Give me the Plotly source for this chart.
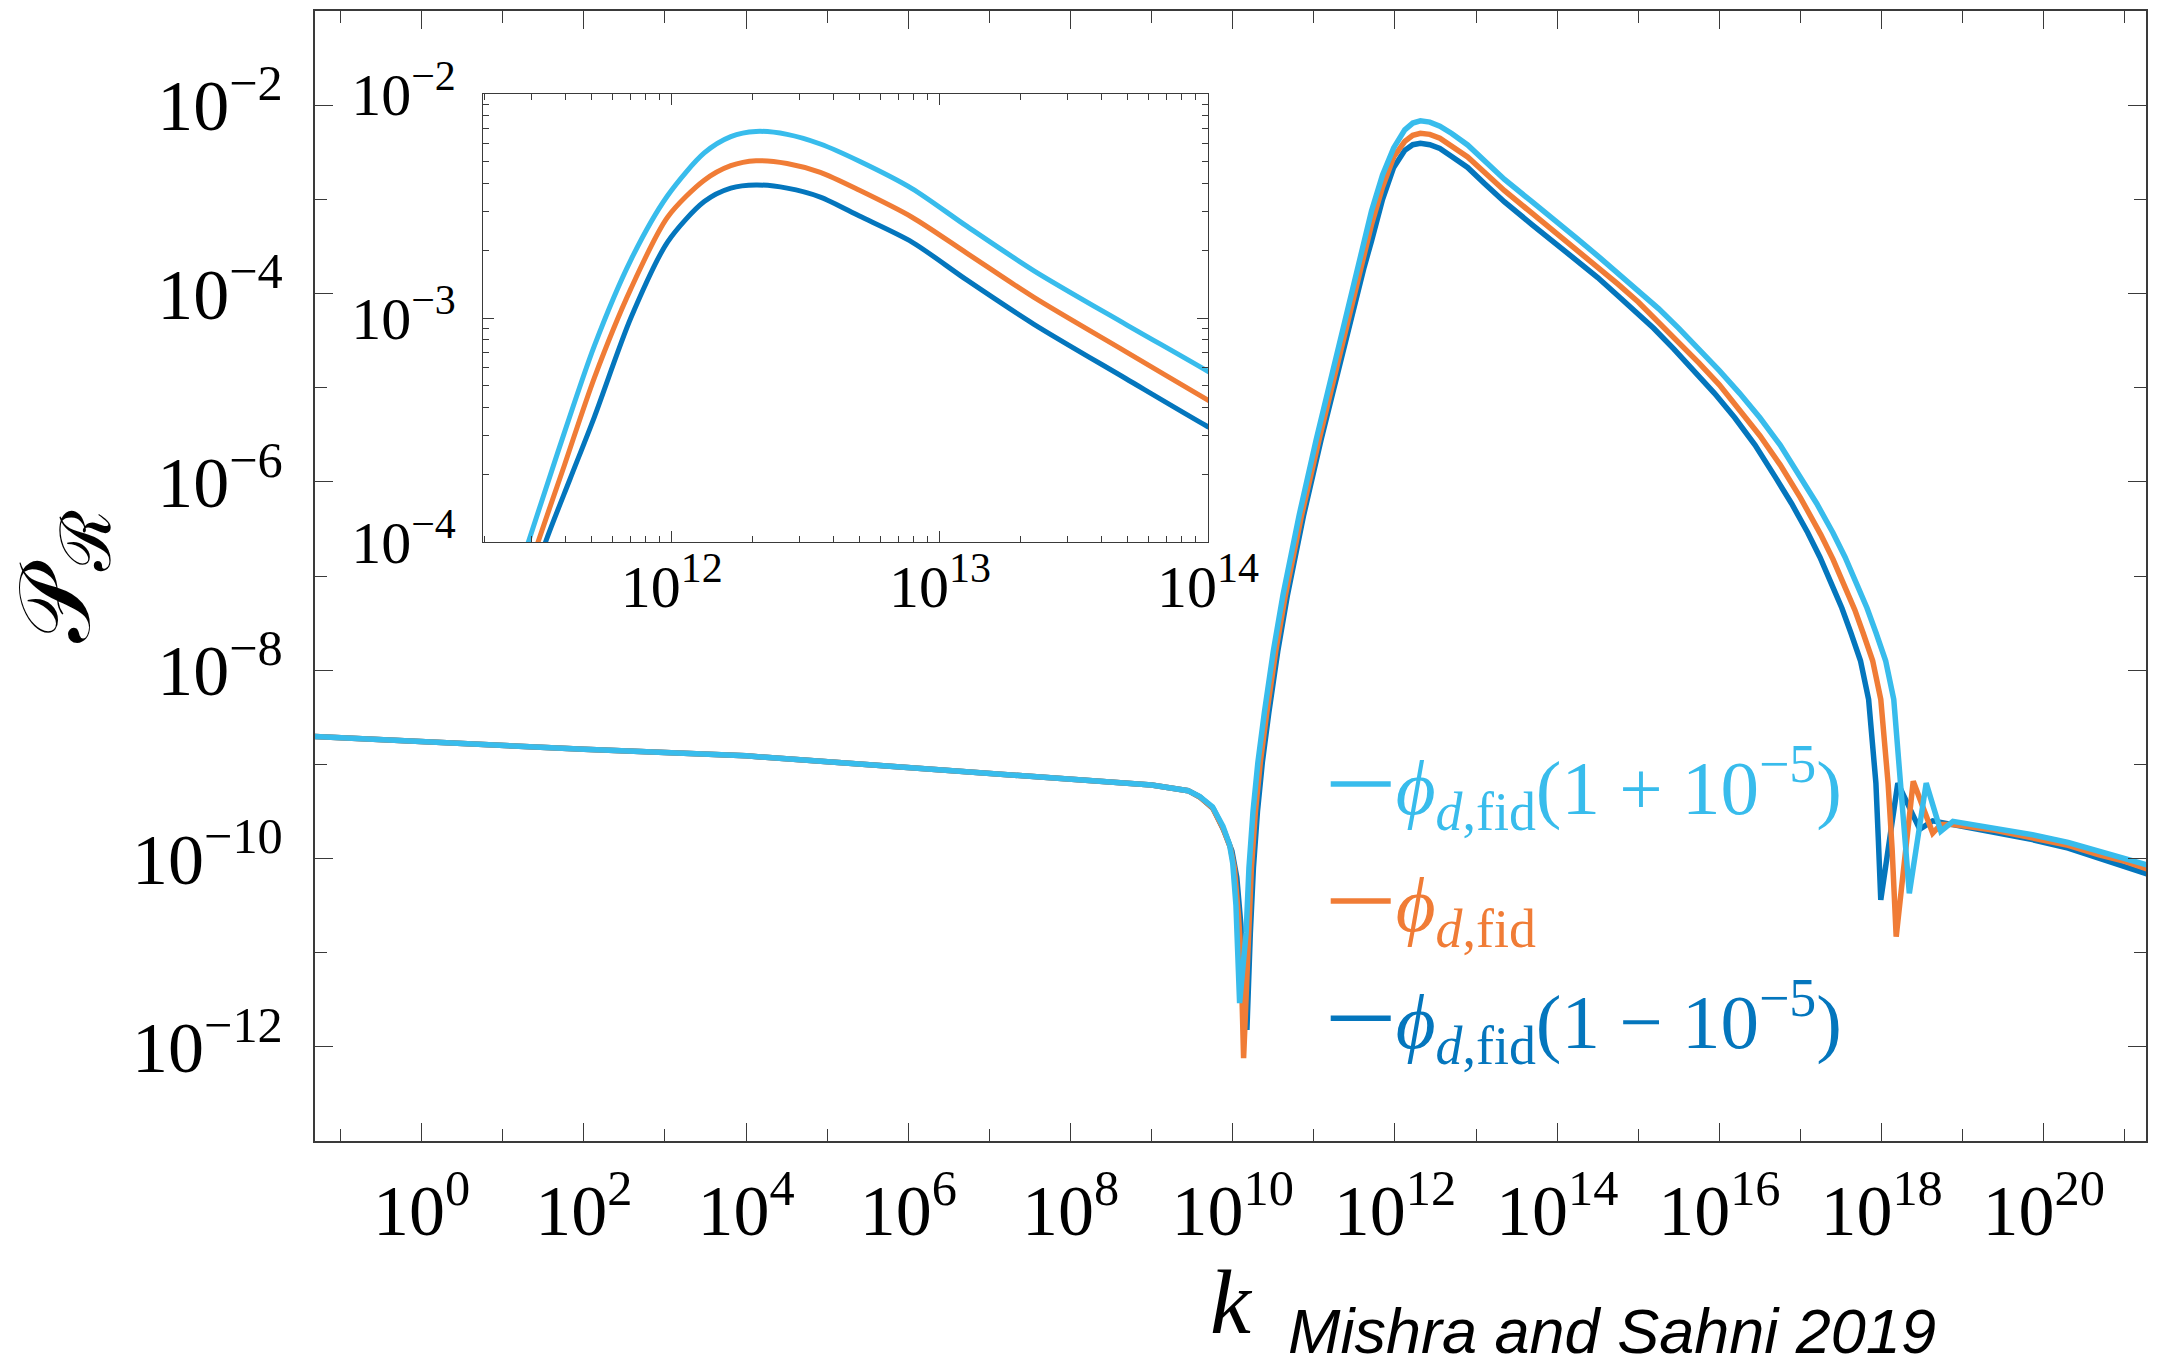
import numpy as np
import plotly.graph_objects as go

# ---- curvature power spectrum P_R(k), three values of the dip parameter ----
# values stored as log10(k) and log10(P_R)

logk_plus = [-1.4, 0, 2, 4, 6, 8, 9, 9.45, 9.59, 9.75, 9.88, 9.96, 10.0, 10.04, 10.065,
             10.085, 10.165, 10.2, 10.25, 10.31, 10.39, 10.5, 10.62, 10.82, 11.03, 11.25,
             11.465, 11.574, 11.711, 11.847, 11.984, 12.121, 12.22, 12.314, 12.43, 12.554,
             12.7, 12.896, 13.1, 13.351, 13.693, 13.995, 14.25, 14.5, 14.75, 15.0, 15.25,
             15.5, 15.75, 16.0, 16.25, 16.5, 16.75, 17.0, 17.2, 17.4, 17.55, 17.7, 17.82,
             17.93, 18.05, 18.15, 18.24, 18.30, 18.342, 18.55, 18.73, 18.88, 19.4, 19.86,
             20.3, 20.68, 21.0, 21.4]
logP_plus = [-8.70, -8.76, -8.84, -8.91, -9.03, -9.15, -9.22, -9.28, -9.34, -9.45, -9.66,
             -9.85, -10.05, -10.5, -11.0, -11.535, -10.79, -10.1, -9.5, -8.98, -8.45, -7.8,
             -7.2, -6.35, -5.55, -4.78, -4.0, -3.602, -3.124, -2.741, -2.454, -2.263, -2.19,
             -2.167, -2.18, -2.223, -2.30, -2.422, -2.59, -2.789, -3.028, -3.235, -3.42,
             -3.6, -3.79, -3.97, -4.16, -4.37, -4.59, -4.82, -5.06, -5.32, -5.61, -5.95,
             -6.23, -6.54, -6.8, -7.1, -7.34, -7.6, -7.9, -8.31, -9.2, -9.9, -10.37, -9.20,
             -9.71, -9.605, -9.68, -9.747, -9.83, -9.92, -9.99, -10.10]

logk_fid = [-1.4, 0, 2, 4, 6, 8, 9, 9.45, 9.59, 9.75, 9.88, 9.97, 10.02, 10.07, 10.10,
            10.134, 10.19, 10.23, 10.28, 10.34, 10.42, 10.53, 10.65, 10.85, 11.065, 11.285,
            11.501, 11.60, 11.711, 11.847, 11.984, 12.121, 12.22, 12.314, 12.43, 12.554,
            12.7, 12.896, 13.1, 13.351, 13.693, 13.995, 14.25, 14.5, 14.75, 15.0, 15.25,
            15.5, 15.75, 16.0, 16.25, 16.5, 16.75, 17.0, 17.25, 17.4, 17.55, 17.67, 17.77,
            17.89, 17.99, 18.08, 18.13, 18.18, 18.39, 18.63, 18.73, 18.88, 19.4, 19.86,
            20.3, 20.68, 21.0, 21.4]
logP_fid = [-8.70, -8.76, -8.84, -8.91, -9.03, -9.15, -9.22, -9.28, -9.345, -9.46, -9.68,
            -9.88, -10.1, -10.6, -11.0, -12.12, -10.79, -10.1, -9.5, -8.98, -8.45, -7.8,
            -7.2, -6.35, -5.55, -4.78, -4.0, -3.655, -3.267, -2.87, -2.55, -2.385, -2.32,
            -2.298, -2.31, -2.35, -2.43, -2.55, -2.71, -2.908, -3.15, -3.363, -3.54, -3.72,
            -3.90, -4.09, -4.30, -4.51, -4.74, -4.97, -5.23, -5.51, -5.82, -6.17, -6.56,
            -6.82, -7.12, -7.36, -7.6, -7.9, -8.31, -9.2, -9.9, -10.83, -9.18, -9.73, -9.64,
            -9.64, -9.70, -9.775, -9.86, -9.96, -10.03, -10.15]

logk_minus = [-1.4, 0, 2, 4, 6, 8, 9, 9.45, 9.6, 9.76, 9.89, 9.99, 10.05, 10.1, 10.13,
              10.175, 10.217, 10.255, 10.305, 10.365, 10.445, 10.555, 10.675, 10.875, 11.09,
              11.31, 11.529, 11.62, 11.711, 11.847, 11.984, 12.121, 12.22, 12.314, 12.43,
              12.554, 12.7, 12.896, 13.1, 13.351, 13.693, 13.995, 14.25, 14.5, 14.77, 15.0,
              15.19, 15.44, 15.69, 15.94, 16.19, 16.44, 16.69, 16.89, 17.09, 17.24, 17.39,
              17.51, 17.62, 17.74, 17.84, 17.93, 17.96, 17.99, 18.20, 18.47, 18.63, 18.88,
              19.4, 19.86, 20.3, 20.68, 21.0, 21.4]
logP_minus = [-8.70, -8.76, -8.84, -8.91, -9.03, -9.15, -9.22, -9.28, -9.35, -9.47, -9.70,
              -9.92, -10.2, -10.7, -11.1, -11.82, -10.79, -10.1, -9.5, -8.98, -8.45, -7.8,
              -7.2, -6.35, -5.55, -4.78, -4.0, -3.72, -3.442, -3.0, -2.661, -2.48, -2.42,
              -2.406, -2.42, -2.46, -2.545, -2.661, -2.83, -3.028, -3.27, -3.482, -3.65,
              -3.83, -4.04, -4.22, -4.37, -4.59, -4.82, -5.06, -5.32, -5.61, -5.95, -6.23,
              -6.54, -6.8, -7.1, -7.34, -7.6, -7.9, -8.31, -9.2, -9.8, -10.44, -9.20, -9.69,
              -9.60, -9.64, -9.72, -9.80, -9.89, -9.995, -10.08, -10.20]

series_names = [
    "<i>ϕ</i><sub><i>d</i>,fid</sub>(1 + 10<sup>−5</sup>)",
    "<i>ϕ</i><sub><i>d</i>,fid</sub>",
    "<i>ϕ</i><sub><i>d</i>,fid</sub>(1 − 10<sup>−5</sup>)",
]
series_colors = ["#38BCEC", "#F07C36", "#0476BD"]

# ---- tick definitions ----
main_x_major = [0, 2, 4, 6, 8, 10, 12, 14, 16, 18, 20]
main_x_minor = [-1, 1, 3, 5, 7, 9, 11, 13, 15, 17, 19, 21]
main_y_major = [-2, -4, -6, -8, -10, -12]
main_y_minor = [-1, -3, -5, -7, -9, -11, -13]
inset_x_major = [12, 13, 14]
inset_y_major = [-2, -3, -4]


def pow_label(e):
    return "10<sup>%s</sup>" % (str(e).replace("-", "−"))


def minor_logs(decades):
    out = []
    for d in decades:
        for m in range(2, 10):
            out.append(m * 10.0 ** d)
    return out


SERIF = "Liberation Serif"
AX = "#3a3a3a"

fig = go.Figure()

series = [
    (logk_minus, logP_minus, 2),
    (logk_fid, logP_fid, 1),
    (logk_plus, logP_plus, 0),
]
for lk, lp, idx in series:
    k = np.power(10.0, lk)
    p = np.power(10.0, lp)
    fig.add_trace(go.Scatter(
        x=k, y=p, mode="lines", xaxis="x", yaxis="y",
        line=dict(color=series_colors[idx], width=5.5),
        name='<span style="color:%s">%s</span>' % (series_colors[idx], series_names[idx]),
        legendrank=idx + 1, legendgroup="g%d" % idx, showlegend=True,
    ))
    fig.add_trace(go.Scatter(
        x=k, y=p, mode="lines", xaxis="x2", yaxis="y2",
        line=dict(color=series_colors[idx], width=5, shape="spline", smoothing=0.8),
        showlegend=False, hoverinfo="skip",
    ))

main_axis_common = dict(
    type="log", showgrid=False, zeroline=False, automargin=False,
    showline=True, linecolor=AX, linewidth=1.6, mirror="ticks",
    ticks="inside", ticklen=18, tickwidth=1.4, tickcolor=AX,
    tickfont=dict(family=SERIF, size=72, color="black"),
)

fig.update_layout(
    width=2161, height=1370,
    paper_bgcolor="white", plot_bgcolor="white",
    margin=dict(l=315, r=15, t=11, b=229, autoexpand=False),
    xaxis=dict(
        **main_axis_common,
        range=[-1.315, 21.26],
        tickmode="array",
        tickvals=[10.0 ** e for e in main_x_major],
        ticktext=[pow_label(e) for e in main_x_major],
        minor=dict(tickmode="array", tickvals=[10.0 ** e for e in main_x_minor],
                   ticks="inside", ticklen=12, tickwidth=1.4, tickcolor=AX),
        ticklabelstandoff=6,
        title=dict(text="<i>k</i>", font=dict(family=SERIF, size=92, color="black"),
                   standoff=8),
    ),
    yaxis=dict(
        **main_axis_common,
        range=[-13, -1],
        tickmode="array",
        tickvals=[10.0 ** e for e in main_y_major],
        ticktext=[pow_label(e) for e in main_y_major],
        minor=dict(tickmode="array", tickvals=[10.0 ** e for e in main_y_minor],
                   ticks="inside", ticklen=12, tickwidth=1.4, tickcolor=AX),
        ticklabelstandoff=16,
        title=dict(text="𝒫<sub>ℛ</sub>", font=dict(family=SERIF, size=100, color="black"),
                   standoff=30),
    ),
    xaxis2=dict(
        type="log", domain=[0.0918, 0.4877], anchor="y2", automargin=False,
        range=[11.296, 14.0], showgrid=False, zeroline=False,
        showline=True, linecolor=AX, linewidth=1.4, mirror="ticks",
        ticks="inside", ticklen=11, tickwidth=1.2, tickcolor=AX,
        tickmode="array",
        tickvals=[10.0 ** e for e in inset_x_major],
        ticktext=[pow_label(e) for e in inset_x_major],
        minor=dict(tickmode="array", tickvals=minor_logs([11, 12, 13]),
                   ticks="inside", ticklen=6, tickwidth=1.2, tickcolor=AX),
        tickfont=dict(family=SERIF, size=60, color="black"),
        ticklabelstandoff=-8,
    ),
    yaxis2=dict(
        type="log", domain=[0.5301, 0.9265], anchor="x2", automargin=False,
        range=[-4.0, -2.0], showgrid=False, zeroline=False,
        showline=True, linecolor=AX, linewidth=1.4, mirror="ticks",
        ticks="inside", ticklen=11, tickwidth=1.2, tickcolor=AX,
        tickmode="array",
        tickvals=[10.0 ** e for e in inset_y_major],
        ticktext=[pow_label(e) for e in inset_y_major],
        minor=dict(tickmode="array", tickvals=minor_logs([-4, -3]),
                   ticks="inside", ticklen=6, tickwidth=1.2, tickcolor=AX),
        tickfont=dict(family=SERIF, size=60, color="black"),
        ticklabelstandoff=14,
    ),
    legend=dict(
        x=0.552, y=0.366, xanchor="left", yanchor="top",
        bgcolor="rgba(0,0,0,0)", borderwidth=0,
        font=dict(family=SERIF, size=77),
        tracegroupgap=14, itemwidth=60,
    ),
    showlegend=True,
)

fig.add_annotation(
    text="<i>Mishra and Sahni 2019</i>",
    xref="paper", yref="paper", x=0.5303, y=-0.2005,
    xanchor="left", yanchor="bottom", showarrow=False,
    font=dict(family="Liberation Sans", size=63, color="black"),
)

fig.write_html("out.html")
